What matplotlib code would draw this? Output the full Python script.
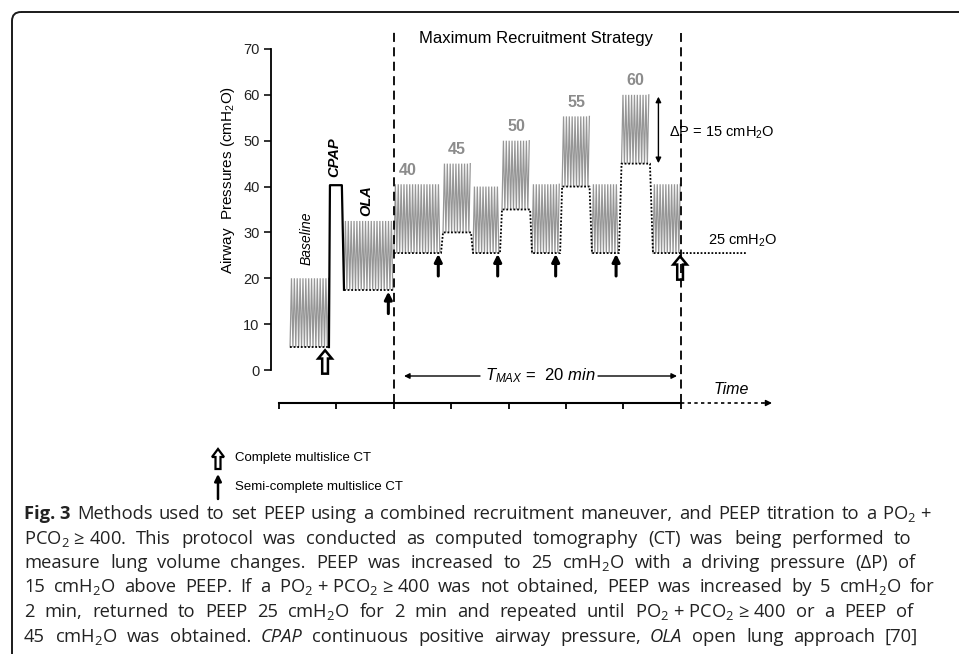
import numpy as np
import matplotlib
matplotlib.use('Agg')
import matplotlib.pyplot as plt
from matplotlib.patches import FancyBboxPatch, FancyArrow

plt.rcParams['font.family'] = ['Liberation Sans', 'DejaVu Sans']
plt.rcParams['mathtext.fontset'] = 'custom'
plt.rcParams['mathtext.rm'] = 'Liberation Sans'
plt.rcParams['mathtext.it'] = 'Liberation Sans:italic'

# ventilation blocks: start / end (min), PEEP and peak pressure (cmH2O)
blk_start = [0.77, 4.53, 8.01, 11.43, 13.52, 15.54, 17.63, 19.73, 21.81, 23.87, 26.06]
blk_end = [3.48, 7.95, 11.29, 13.38, 15.40, 17.50, 19.59, 21.64, 23.69, 25.85, 28.0]
blk_low = [5, 17.5, 25.5, 30, 25.5, 35, 25.5, 40, 25.5, 45, 25.5]
blk_high = [20, 32.5, 40.5, 45, 40, 50, 40.5, 55.3, 40.5, 60, 40.5]

# recruitment steps labelled with peak pressure
step_idx = [2, 3, 5, 7, 9]
step_lbl = ['40', '45', '50', '55', '60']

# CPAP manoeuvre (solid line)
cpap_t = [3.48, 3.55, 4.38, 4.53]
cpap_p = [5, 40.3, 40.3, 17.5]

# CT scans: semi-complete (thin arrows) and complete (hollow arrows)
semi_t = [7.62, 11.10, 15.24, 19.28, 23.49]
semi_p = [17.1, 25.3, 25.3, 25.3, 25.3]
full_t = [3.21, 27.95]
full_p = [4.3, 24.8]

time_ticks = [0, 4, 8, 12, 16, 20, 24, 28]
y_ticks = [0, 10, 20, 30, 40, 50, 60, 70]
t_start, t_max = 8.0, 28.0
peep_end = 32.6

# caption (~ keeps words together, #b bold, #i italic, _2 subscript)
caption = [
    '#bFig.~3 Methods used to set PEEP using a combined recruitment maneuver, and PEEP titration to a PO_2~+',
    'PCO_2~\u2265~400. This protocol was conducted as computed tomography (CT) was being performed to',
    'measure lung volume changes. PEEP was increased to 25 cmH_2O with a driving pressure (\u0394P) of',
    '15 cmH_2O above PEEP. If a PO_2~+~PCO_2~\u2265~400 was not obtained, PEEP was increased by 5 cmH_2O for',
    '2 min, returned to PEEP 25 cmH_2O for 2 min and repeated until PO_2~+~PCO_2~\u2265~400 or a PEEP of',
    '45 cmH_2O was obtained. #iCPAP continuous positive airway pressure, #iOLA open lung approach [70]',
]
caption_end = [932, 911, 915, 935, 913, 918]

W, H = 959, 654
fig = plt.figure(figsize=(W / 100, H / 100), dpi=100)

# overlay in pixel units for frame, legend and caption
cap = fig.add_axes([0, 0, 1, 1])
cap.set_xlim(0, W); cap.set_ylim(H, 0); cap.axis('off')
cap.add_patch(FancyBboxPatch((12, 12), 1100, 800, boxstyle='round,pad=0,rounding_size=9',
                             fc='none', ec='#1a1a1a', lw=1.4, clip_on=False))

# chart axes placed so that 4 min = 57.4 px and 10 cmH2O = 45.86 px
px_t = lambda px: (px - 279) / 57.4 * 4
py_p = lambda py: (370 - py) / 4.586
ax = fig.add_axes([200 / W, 1 - 420 / H, 600 / W, 400 / H])
ax.patch.set_visible(False)
ax.set_xlim(px_t(200), px_t(800)); ax.set_ylim(py_p(420), py_p(20))
for s in ['top', 'right', 'bottom']:
    ax.spines[s].set_visible(False)
ax.spines['left'].set_position(('data', -0.58))
ax.spines['left'].set_bounds(0, 70)
ax.spines['left'].set_linewidth(1.3)
ax.set_xticks([])
ax.set_yticks(y_ticks)
ax.tick_params(axis='y', length=5, width=1.3, labelsize=10.5, pad=3, colors='#222222')

ax.text(px_t(228), 41.4, 'Airway  Pressures (cm$\\mathregular{H_2}$O)', rotation=90,
        ha='center', va='center', fontsize=11)

# ventilation waveforms
for x0, x1, lo, hi in zip(blk_start, blk_end, blk_low, blk_high):
    xs = np.arange(x0, x1 + 1e-9, 0.1)
    ys = np.where(np.arange(len(xs)) % 2 == 0, lo, hi)
    ax.plot(xs, ys, color='#969696', lw=0.9, solid_joinstyle='miter')

# PEEP dotted lines
ax.plot([blk_start[0], blk_end[0]], [blk_low[0]] * 2, color='k', lw=1.3, ls=(0, (1, 1)))
ax.plot([blk_start[1], blk_end[1]], [blk_low[1]] * 2, color='k', lw=1.3, ls=(0, (1, 1)))
pt, pp = [], []
for i in range(2, len(blk_start)):
    pt += [blk_start[i], blk_end[i]]
    pp += [blk_low[i], blk_low[i]]
pt.append(peep_end); pp.append(blk_low[-1])
ax.plot(pt, pp, color='k', lw=1.3, ls=(0, (1, 1)))

ax.plot(cpap_t, cpap_p, color='k', lw=1.6)

for i, lbl in zip(step_idx, step_lbl):
    ax.text(blk_start[i] + 0.98, blk_high[i] + 3.1, lbl, color='#8c8c8c', fontweight='bold',
            fontsize=11.5, ha='center', va='center')

ax.text(px_t(307), 28.8, 'Baseline', rotation=90, style='italic', fontsize=10,
        ha='center', va='center')
ax.text(px_t(334), 46.5, 'CPAP', rotation=90, style='italic', fontweight='bold', fontsize=10.5,
        ha='center', va='center')
ax.text(px_t(366.7), 37, 'OLA', rotation=90, style='italic', fontweight='bold', fontsize=10.5,
        ha='center', va='center')

# phase boundaries
ax.vlines([t_start, t_max], py_p(403), [py_p(30), py_p(33)], colors='k', lw=1.3,
          linestyles=(0, (5, 3)))
ax.text(17.9, py_p(38), 'Maximum Recruitment Strategy', fontsize=12, ha='center', va='center')

# arrows for CT
for t, p in zip(semi_t, semi_p):
    ax.annotate('', xy=(t, p), xytext=(t, p - 4.8),
                arrowprops=dict(arrowstyle='-|>', lw=2.2, color='k', mutation_scale=11,
                                shrinkA=0, shrinkB=0))
for t, p in zip(full_t, full_p):
    ax.add_patch(FancyArrow(t, p - 5.1, 0, 5.1, width=0.4, head_width=0.95, head_length=1.8,
                            length_includes_head=True, fc='white', ec='k', lw=1.8))

# driving pressure
ax.annotate('', xy=(26.44, 59.6), xytext=(26.44, 45.1),
            arrowprops=dict(arrowstyle='<|-|>', lw=1, color='k', mutation_scale=8,
                            shrinkA=0, shrinkB=0))
ax.text(px_t(669), 51.7, '\u0394P = 15 cm$\\mathregular{H_2}$O', fontsize=10.5, va='center')
ax.text(px_t(708), 26.3, '25 cm$\\mathregular{H_2}$O', fontsize=10.5, va='bottom')

# T_MAX
ty = py_p(376)
ax.annotate('', xy=(px_t(404), ty), xytext=(px_t(480), ty),
            arrowprops=dict(arrowstyle='-|>', lw=1, color='k', mutation_scale=8, shrinkA=0, shrinkB=0))
ax.annotate('', xy=(px_t(677), ty), xytext=(px_t(598), ty),
            arrowprops=dict(arrowstyle='-|>', lw=1, color='k', mutation_scale=8, shrinkA=0, shrinkB=0))
ax.text(px_t(540), ty, '$T_{MAX}$ =  $20$ $min$', fontsize=12, ha='center', va='center')

# time axis
ay = py_p(403)
ax.plot([time_ticks[0], time_ticks[-1]], [ay, ay], color='k', lw=1.5)
ax.vlines(time_ticks, ay - 1.2, ay, colors='k', lw=1.3)
ax.plot([time_ticks[-1], px_t(766)], [ay, ay], color='k', lw=1.2, ls=(0, (2, 2)))
ax.annotate('', xy=(px_t(772), ay), xytext=(px_t(764), ay),
            arrowprops=dict(arrowstyle='-|>', lw=1, color='k', mutation_scale=9, shrinkA=0, shrinkB=0))
ax.text(px_t(731.7), py_p(390), 'Time', style='italic', fontsize=11.5, ha='center', va='center')

# legend
cap.add_patch(FancyArrow(218, 469, 0, -20, width=5, head_width=12, head_length=8,
                         length_includes_head=True, fc='white', ec='k', lw=1.6))
cap.annotate('', xy=(218, 474), xytext=(218, 499),
             arrowprops=dict(arrowstyle='-|>', lw=1.8, color='k', mutation_scale=10,
                             shrinkA=0, shrinkB=0))
cap.text(235, 458, 'Complete multislice CT', fontsize=9.5, va='center')
cap.text(235, 487, 'Semi-complete multislice CT', fontsize=9.5, va='center')

# caption, justified word by word
fs = 13.2
r = fig.canvas.get_renderer()
for k, (line, x_end) in enumerate(zip(caption, caption_end)):
    y = round(519 + 24.5 * k)
    words = []
    for w in line.split(' '):
        kw = {}
        if w.startswith('#b'):
            w, kw = w[2:], dict(fontweight='bold')
        elif w.startswith('#i'):
            w, kw = w[2:], dict(style='italic')
        w = w.replace('~', ' ').replace('_2', '$\\mathregular{_2}$')
        t = cap.text(0, y, w, family='Open Sans', fontsize=fs, va='baseline', color='#222222', **kw)
        words.append((t, t.get_window_extent(r).width))
    gap = (x_end - 24 - sum(wd for _, wd in words)) / (len(words) - 1)
    x = 24
    for t, wd in words:
        t.set_x(round(x))
        x += wd + gap

fig.savefig('out.png', dpi=100)
